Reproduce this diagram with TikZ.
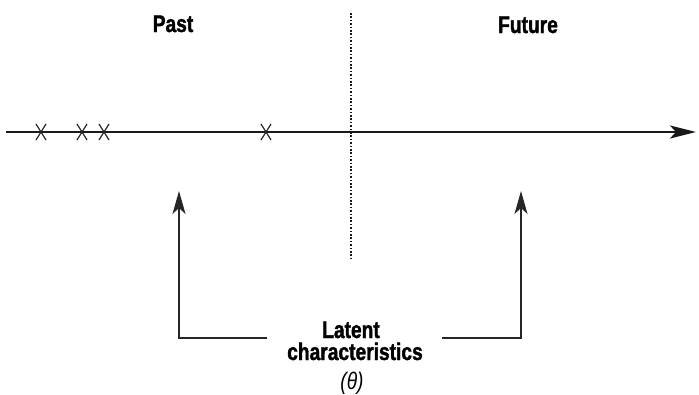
\documentclass[tikz,border=0pt]{standalone}
\usepackage{fontspec}
\newfontfamily\condsans{Liberation Sans}[FakeStretch=0.8, BoldFeatures={FakeBold=1.5}]
\usetikzlibrary{arrows.meta}
\tikzset{
  label/.style={font=\condsans\bfseries\fontsize{24}{28}\selectfont, inner sep=0pt, anchor=base},
  tick/.style={line width=1.2pt, black!85},
  axis/.style={line width=2.6pt, black!90, -{Stealth[length=26pt,width=13pt,inset=6pt]}},
  pointer/.style={line width=1.2pt, black!85, -{Stealth[length=23pt,width=13pt,inset=6pt]}},
  divider/.style={line width=1.7pt, black!90, dash pattern=on 1.6pt off 1.8pt}
}
\begin{document}
\begin{tikzpicture}[x=1pt,y=-1pt]
  \useasboundingbox (0,0) rectangle (699,394);

  % headings
  \node[label] (past) at (173,32) {Past};
  \node[label] (future) at (528,33) {Future};

  % time axis
  \coordinate (tstart) at (6,132);
  \coordinate (tend) at (696,132);
  \draw[axis] (tstart) -- (tend);

  % observed events on the axis
  \foreach \n/\x in {a/41,b/82,c/104,d/266} {
    \coordinate (ev\n) at (\x,132);
    \draw[tick] ([shift={(-5,-8)}]ev\n) -- ([shift={(5,8)}]ev\n);
    \draw[tick] ([shift={(5,-8)}]ev\n) -- ([shift={(-5,8)}]ev\n);
  }

  % present divider
  \coordinate (dtop) at (351,13);
  \coordinate (dbot) at (351,261);
  \draw[divider] (dtop) -- (dbot);

  % latent characteristics label
  \node[label] (lat1) at (351,338) {Latent};
  \node[label] (lat2) at (355,360) {characteristics};
  \node[font=\condsans\itshape\fontsize{24}{28}\selectfont, inner sep=0pt, anchor=base] (lat3) at (352,389) {(θ)};

  % pointers to past and future
  \coordinate (lfoot) at (267,338);
  \coordinate (ltip) at (179,191);
  \coordinate (rfoot) at (442,338);
  \coordinate (rtip) at (521,191);
  \draw[pointer] (lfoot) -| (ltip);
  \draw[pointer] (rfoot) -| (rtip);
\end{tikzpicture}
\end{document}
